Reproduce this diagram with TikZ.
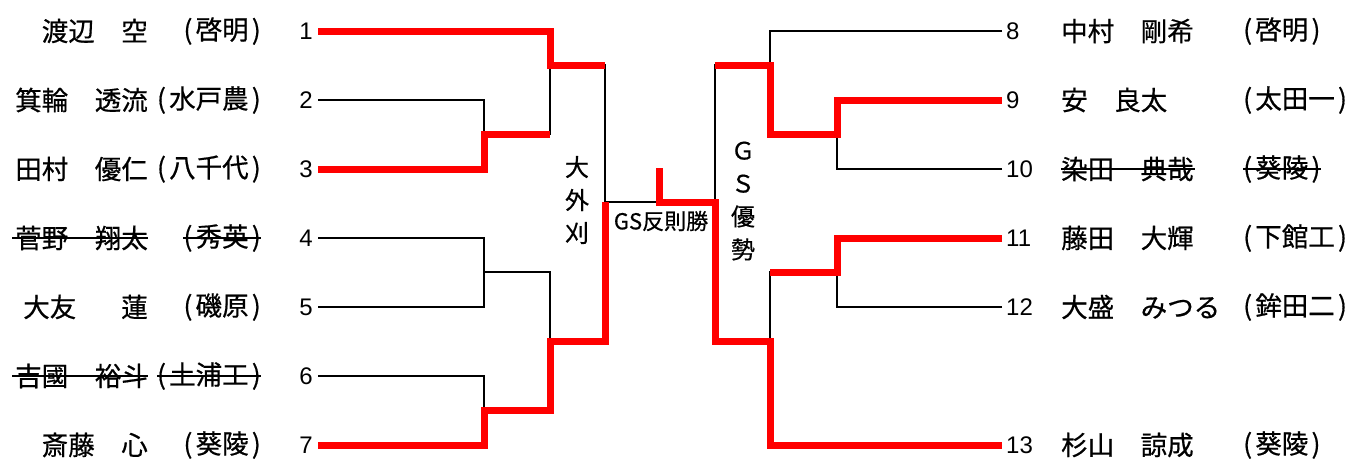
\documentclass[tikz,border=0pt]{standalone}
\usepackage{fontspec}
\setmainfont{Noto Sans CJK JP}[FakeBold=0.6]
\newfontfamily\numfont{Liberation Sans}
\newcommand\sch[1]{(\kern.12em#1\kern.12em)}
\usetikzlibrary{positioning,calc}
\tikzset{>=stealth}
\tikzset{
  wire/.style={line width=2pt},
  win/.style={line width=7pt,red},
  strikeline/.style={line width=2pt},
  num/.style={font=\numfont\fontsize{24}{24}\selectfont,inner xsep=5pt,inner ysep=0pt},
  pname/.style={font=\fontsize{26.5}{30}\selectfont,inner sep=0pt},
  vlab/.style={font=\fontsize{24}{33}\selectfont,align=center,inner sep=0pt}
}
\begin{document}
\begin{tikzpicture}[x=1pt,y=-1pt]
\useasboundingbox (0,0) rectangle (1349,459);
% left players
\node[num,anchor=east] (n1) at (318,31) {1};
\node[num,anchor=east] (n2) at (318,100) {2};
\node[num,anchor=east] (n3) at (318,169) {3};
\node[num,anchor=east] (n4) at (318,238) {4};
\node[num,anchor=east] (n5) at (318,307) {5};
\node[num,anchor=east] (n6) at (318,376) {6};
\node[num,anchor=east] (n7) at (318,445) {7};
\node[pname,anchor=east] (a1) at (148,31) {渡辺　空};
\node[pname,anchor=east] (a2) at (148,100) {箕輪　透流};
\node[pname,anchor=east] (a3) at (148,169) {田村　優仁};
\node[pname,anchor=east] (a4) at (148,238) {菅野　翔太};
\node[pname,anchor=east] (a5) at (148,307) {大友\hspace{1.7em}蓮};
\node[pname,anchor=east] (a6) at (148,376) {吉國　裕斗};
\node[pname,anchor=east] (a7) at (148,445) {斎藤　心};
\node[pname,anchor=east] (s1) at (261,31) {\sch{啓明}};
\node[pname,anchor=east] (s2) at (261,100) {\sch{水戸農}};
\node[pname,anchor=east] (s3) at (261,169) {\sch{八千代}};
\node[pname,anchor=east] (s4) at (261,238) {\sch{秀英}};
\node[pname,anchor=east] (s5) at (261,307) {\sch{磯原}};
\node[pname,anchor=east] (s6) at (261,376) {\sch{土浦工}};
\node[pname,anchor=east] (s7) at (261,445) {\sch{葵陵}};
% right players
\node[num,anchor=west,inner xsep=4pt] (n8) at (1002,31) {8};
\node[num,anchor=west,inner xsep=4pt] (n9) at (1002,100) {9};
\node[num,anchor=west,inner xsep=4pt] (n10) at (1002,169) {10};
\node[num,anchor=west,inner xsep=4pt] (n11) at (1002,238) {11};
\node[num,anchor=west,inner xsep=4pt] (n12) at (1002,307) {12};
\node[num,anchor=west,inner xsep=4pt] (n13) at (1002,445) {13};
\node[pname,anchor=west] (a8) at (1061,31) {中村　剛希};
\node[pname,anchor=west] (a9) at (1061,100) {安　良太};
\node[pname,anchor=west] (a10) at (1061,169) {染田　典哉};
\node[pname,anchor=west] (a11) at (1061,238) {藤田　大輝};
\node[pname,anchor=west] (a12) at (1061,307) {大盛　みつる};
\node[pname,anchor=west] (a13) at (1061,445) {杉山　諒成};
\node[pname,anchor=west] (s8) at (1243,31) {\sch{啓明}};
\node[pname,anchor=west] (s9) at (1243,100) {\sch{太田一}};
\node[pname,anchor=west] (s10) at (1243,169) {\sch{葵陵}};
\node[pname,anchor=west] (s11) at (1243,238) {\sch{下館工}};
\node[pname,anchor=west] (s12) at (1243,307) {\sch{鉾田二}};
\node[pname,anchor=west] (s13) at (1243,445) {\sch{葵陵}};
% withdrawn
\draw[strikeline] ([xshift=-3pt]a4.west) -- (a4.east);
\draw[strikeline] (s4.west) -- (s4.east);
\draw[strikeline] ([xshift=-3pt]a6.west) -- (a6.east);
\draw[strikeline] (s6.west) -- (s6.east);
\draw[strikeline] (a10.west) -- ([xshift=1pt]a10.east);
\draw[strikeline] (s10.west) -- (s10.east);
% match points
\coordinate (m23) at (484,134);
\coordinate (m45) at (484,272);
\coordinate (m67) at (484,410);
\coordinate (m123) at (550,65);
\coordinate (m4567) at (550,341);
\coordinate (mL) at (605,202);
\coordinate (flag) at (659,168);
\coordinate (mR) at (715,202);
\coordinate (m910) at (837,134);
\coordinate (m1112) at (837,272);
\coordinate (m8910) at (770,65);
\coordinate (m1113) at (770,341);
% bracket
\draw[wire] (n2.east) -| (m23);
\draw[wire] (n3.east) -| (m23);
\draw[wire] (n1.east) -| (m123);
\draw[wire] (m23) -| (m123);
\draw[wire] (n4.east) -| (m45);
\draw[wire] (n5.east) -| (m45);
\draw[wire] (n6.east) -| (m67);
\draw[wire] (n7.east) -| (m67);
\draw[wire] (m45) -| (m4567);
\draw[wire] (m67) -| (m4567);
\draw[wire] (m123) -| (mL);
\draw[wire] (m4567) -| (mL);
\draw[wire] (mL) -- (mR);
\draw[wire] (n9.west) -| (m910);
\draw[wire] (n10.west) -| (m910);
\draw[wire] (n8.west) -| (m8910);
\draw[wire] (m910) -| (m8910);
\draw[wire] (n11.west) -| (m1112);
\draw[wire] (n12.west) -| (m1112);
\draw[wire] (n13.west) -| (m1113);
\draw[wire] (m1112) -| (m1113);
\draw[wire] (m8910) -| (mR);
\draw[wire] (m1113) -| (mR);
% winners
\draw[win] (n1.east) -| (m123) -- (m123 -| mL);
\draw[win] (n3.east) -| (m23) -- (m23 -| m123);
\draw[win] (n7.east) -| (m67) -| (m4567) -| (mL);
\draw[win] (flag) |- (mR) |- (m1113) |- (n13.west);
\draw[win] (m8910 -| mR) -- (m8910) |- (m910) |- (n9.west);
\draw[win] (n11.west) -| (m1112) -- (m1112 -| m1113);
% results
\node[vlab] (k1) at (577,200) {大\\外\\刈};
\node[vlab] (k2) at (743,201) {Ｇ\\Ｓ\\優\\勢};
\node[font=\fontsize{22}{22}\selectfont,inner sep=0pt] (k3) at (661,221) {GS反則勝};
\end{tikzpicture}
\end{document}
